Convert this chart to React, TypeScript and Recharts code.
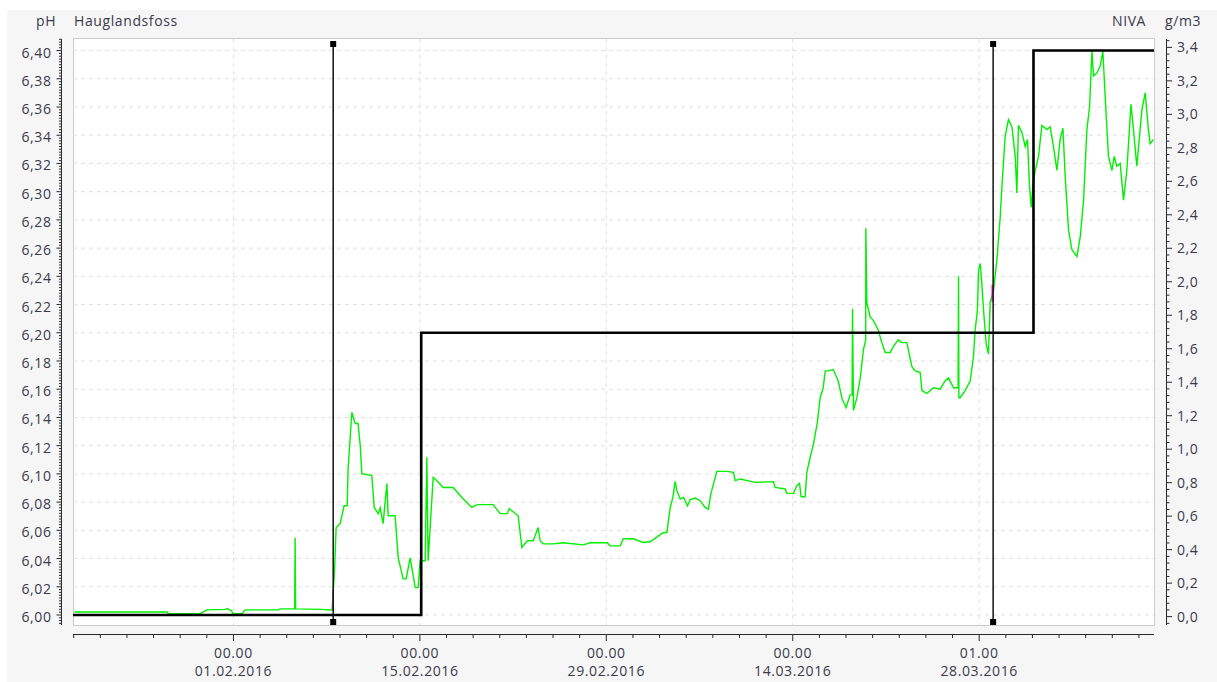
import React from "react";
import { LineChart, Line, XAxis, YAxis, CartesianGrid, ReferenceLine } from "recharts";

// x values are days relative to 01.02.2016 00:00
const GREEN_DAYS = [
  -11.96, -4.98, -4.9, -2.5, -1.98, -0.62, -0.47, -0.17, 0.0, 0.65, 0.88, 3.36, 3.51, 4.6, 4.63, 4.67, 6.51, 7.41,
  7.59, 7.71, 8.01, 8.31, 8.54, 8.61, 8.89, 9.14, 9.36, 9.52, 9.64, 10.39, 10.57, 10.87, 11.02, 11.24, 11.52, 11.62,
  12.14, 12.37, 12.74, 12.97, 13.27, 13.65, 13.87, 14.02, 14.4, 14.52, 14.62, 15.0, 15.28, 15.75, 16.5, 17.15, 17.9,
  18.3, 19.5, 20.03, 20.55, 20.71, 21.38, 21.66, 22.06, 22.51, 22.88, 23.03, 23.26, 24.01, 24.76, 26.26, 26.79, 28.07,
  28.29, 29.04, 29.27, 30.02, 30.77, 31.29, 31.92, 32.29, 32.55, 32.8, 33.0, 33.17, 33.3, 33.55, 33.8, 34.1, 34.3,
  34.67, 35.05, 35.42, 35.67, 35.85, 36.05, 36.3, 37.05, 37.55, 37.68, 38.05, 39.18, 40.55, 40.68, 41.43, 41.56, 42.06,
  42.31, 42.51, 42.63, 42.93, 43.06, 43.31, 43.56, 43.84, 44.06, 44.29, 44.44, 44.66, 45.04, 45.41, 45.71, 46.01,
  46.31, 46.46, 46.49, 46.56, 46.82, 47.07, 47.31, 47.48, 47.49, 47.57, 47.82, 48.04, 48.42, 48.69, 48.94, 49.32,
  49.54, 49.92, 50.2, 50.57, 50.95, 51.19, 51.57, 51.7, 52.07, 52.57, 53.07, 53.45, 53.7, 54.07, 54.42, 54.45, 54.48,
  54.57, 54.95, 55.33, 55.57, 55.7, 55.87, 55.95, 56.08, 56.2, 56.33, 56.53, 56.7, 56.83, 57.08, 57.33, 57.58, 57.71,
  57.95, 58.2, 58.46, 58.71, 58.83, 58.95, 59.21, 59.46, 59.63, 59.78, 59.91, 60.03, 60.21, 60.46, 60.71, 61.09,
  61.33, 61.58, 61.84, 62.08, 62.29, 62.46, 62.71, 62.96, 63.34, 63.59, 63.84, 64.09, 64.29, 64.47, 64.59, 64.84,
  65.09, 65.29, 65.46, 65.71, 65.97, 66.14, 66.34, 66.59, 66.84, 67.09, 67.4, 67.59, 67.84, 68.22, 68.47, 68.71,
  68.84, 69.09,
];

const GREEN_PH = [
  6.0021, 6.0021, 6.0009, 6.0009, 6.0036, 6.004, 6.0045, 6.003, 6.0009, 6.0009, 6.0036, 6.0036, 6.0043, 6.0043, 6.0547,
  6.0043, 6.004, 6.0036, 6.0313, 6.062, 6.0647, 6.0774, 6.0774, 6.1037, 6.1437, 6.1357, 6.1357, 6.1201, 6.1002, 6.0988,
  6.0762, 6.0718, 6.076, 6.0647, 6.0931, 6.0703, 6.0703, 6.0407, 6.0256, 6.0256, 6.0405, 6.0194, 6.0194, 6.0384,
  6.0384, 6.1118, 6.0384, 6.0975, 6.0952, 6.0904, 6.0904, 6.0833, 6.0762, 6.0782, 6.0782, 6.0718, 6.0718, 6.0753,
  6.0703, 6.0478, 6.0526, 6.0526, 6.062, 6.0526, 6.0504, 6.0504, 6.0512, 6.0497, 6.0512, 6.0512, 6.049, 6.049, 6.054,
  6.054, 6.0514, 6.0519, 6.0561, 6.0585, 6.0585, 6.0762, 6.0833, 6.0947, 6.0881, 6.0822, 6.0833, 6.0774, 6.0818,
  6.0829, 6.081, 6.0762, 6.075, 6.0858, 6.0929, 6.1018, 6.1018, 6.1011, 6.0952, 6.0964, 6.094, 6.0945, 6.0904, 6.0893,
  6.0862, 6.0862, 6.0917, 6.0933, 6.0838, 6.0838, 6.1011, 6.1118, 6.1213, 6.136, 6.154, 6.161, 6.173, 6.173, 6.174,
  6.166, 6.153, 6.147, 6.156, 6.156, 6.217, 6.145, 6.154, 6.168, 6.188, 6.195, 6.274, 6.221, 6.211, 6.209, 6.202,
  6.193, 6.186, 6.186, 6.19, 6.195, 6.193, 6.193, 6.176, 6.173, 6.172, 6.159, 6.157, 6.161, 6.16, 6.166, 6.168, 6.161,
  6.161, 6.24, 6.154, 6.154, 6.159, 6.166, 6.183, 6.202, 6.216, 6.244, 6.249, 6.235, 6.216, 6.192, 6.185, 6.222, 6.23,
  6.2515, 6.282, 6.304, 6.339, 6.351, 6.346, 6.325, 6.299, 6.347, 6.342, 6.332, 6.337, 6.304, 6.289, 6.304, 6.315,
  6.325, 6.347, 6.344, 6.346, 6.332, 6.315, 6.337, 6.345, 6.311, 6.273, 6.259, 6.254, 6.268, 6.294, 6.344, 6.36,
  6.3995, 6.382, 6.384, 6.389, 6.3995, 6.368, 6.325, 6.315, 6.325, 6.318, 6.32, 6.294, 6.315, 6.362, 6.344, 6.318,
  6.358, 6.37, 6.344, 6.334, 6.337,
];

const STEP_DAYS = [-12.05, 14.1, 60.08, 69.13];
const STEP_PH = [6.0, 6.2, 6.4, 6.4];

const MAG_A_DAYS = [7.49, 7.49];
const MAG_A_PH = [6.003, 6.018];
const MAG_B_DAYS = [56.98, 56.98];
const MAG_B_PH = [6.222, 6.234];

const CURSOR_DAYS = [7.49, 57.05];

const X_MAJOR = [0, 14, 28, 42, 56];
const X_TIME = ["00.00", "00.00", "00.00", "00.00", "01.00"];
const X_DATE = ["01.02.2016", "15.02.2016", "29.02.2016", "14.03.2016", "28.03.2016"];

const LEFT_MAJOR = [
  6.0, 6.02, 6.04, 6.06, 6.08, 6.1, 6.12, 6.14, 6.16, 6.18, 6.2, 6.22, 6.24, 6.26, 6.28, 6.3, 6.32, 6.34, 6.36, 6.38, 6.4,
];
const RIGHT_MAJOR = [0, 0.2, 0.4, 0.6, 0.8, 1.0, 1.2, 1.4, 1.6, 1.8, 2.0, 2.2, 2.4, 2.6, 2.8, 3.0, 3.2, 3.4];

const X_DOMAIN: [number, number] = [-12.05, 69.13];
const LEFT_DOMAIN: [number, number] = [5.9929, 6.4082];
const RIGHT_DOMAIN: [number, number] = [-0.05, 3.45];

const TEXT = "#3a3a4c";
const AXIS = "#2a2a2a";
const FONT = '"Open Sans", sans-serif';

const pairs = (xs: number[], ys: number[]) => xs.map((d, i) => ({ d, v: ys[i] }));
const greenData = pairs(GREEN_DAYS, GREEN_PH);
const stepData = pairs(STEP_DAYS, STEP_PH);
const magA = pairs(MAG_A_DAYS, MAG_A_PH);
const magB = pairs(MAG_B_DAYS, MAG_B_PH);

// minor ticks
const range = (from: number, to: number, step: number) => {
  const out: number[] = [];
  const n = Math.round((to - from) / step);
  for (let i = 0; i <= n; i++) out.push(Math.round((from + i * step) * 10000) / 10000);
  return out;
};
const xTicks = range(-12, 68, 2);
const leftTicks = range(5.994, 6.408, 0.002);
const rightTicks = range(-0.04, 3.44, 0.04);

const near = (list: number[], v: number) => list.findIndex((m) => Math.abs(m - v) < 1e-6);

function XTick(props: any) {
  const { x, y, payload } = props;
  const i = near(X_MAJOR, payload.value);
  const ay = y + 10;
  return (
    <g>
      <line x1={x} x2={x} y1={ay} y2={ay + (i >= 0 ? 6 : 3)} stroke={AXIS} />
      {i >= 0 && (
        <text textAnchor="middle" fill={TEXT} fontSize={14} fontFamily={FONT} letterSpacing={0.6}>
          <tspan x={x} y={y + 33}>{X_TIME[i]}</tspan>
          <tspan x={x} y={y + 51}>{X_DATE[i]}</tspan>
        </text>
      )}
    </g>
  );
}

function LeftTick(props: any) {
  const { x, y, payload } = props;
  const major = near(LEFT_MAJOR, payload.value) >= 0;
  const ax = x - 11.5;
  return (
    <g>
      <line x1={ax - (major ? 5 : 2.5)} x2={ax} y1={y} y2={y} stroke={AXIS} />
      {major && (
        <text x={ax - 10} y={y + 7} textAnchor="end" fill={TEXT} fontSize={14} fontFamily={FONT} letterSpacing={0.6}>
          {payload.value.toFixed(2).replace(".", ",")}
        </text>
      )}
    </g>
  );
}

function RightTick(props: any) {
  const { x, y, payload } = props;
  const major = near(RIGHT_MAJOR, payload.value) >= 0;
  const ax = x + 13;
  return (
    <g>
      <line x1={ax} x2={ax + (major ? 5 : 2.5)} y1={y} y2={y} stroke={AXIS} />
      {major && (
        <text x={ax + 10} y={y + 5} textAnchor="start" fill={TEXT} fontSize={14} fontFamily={FONT} letterSpacing={0.6}>
          {payload.value.toFixed(1).replace(".", ",")}
        </text>
      )}
    </g>
  );
}

function CursorShape(props: any) {
  const { x1, y1, y2 } = props;
  const top = Math.min(y1, y2);
  const bot = Math.max(y1, y2);
  return (
    <g>
      <line x1={x1} x2={x1} y1={top + 5} y2={bot - 3} stroke="#111" strokeWidth={1.5} />
      <rect x={x1 - 3} y={top + 2} width={6} height={6} fill="#000" />
      <rect x={x1 - 3} y={bot - 6} width={6} height={6} fill="#000" />
    </g>
  );
}

export default function App() {
  const abs = (s: React.CSSProperties): React.CSSProperties => ({ position: "absolute", ...s });
  return (
    <div style={abs({ left: 0, top: 0, width: 1217, height: 682, background: "#fff", overflow: "hidden", fontFamily: FONT })}>
      <div style={abs({ left: 7, top: 10, right: 0, bottom: 0, background: "#f6f6f6" })} />
      <div
        style={abs({
          left: 73,
          top: 38,
          width: 1082,
          height: 588,
          background: "#fff",
          border: "1px solid #cdcdcd",
          boxSizing: "border-box",
        })}
      />
      {/* axis lines sit a little outside the plot box */}
      <div style={abs({ left: 61, top: 39, width: 1, height: 586, background: AXIS })} />
      <div style={abs({ left: 1166, top: 39, width: 1, height: 586, background: AXIS })} />
      <div style={abs({ left: 73, top: 634, width: 1081, height: 1, background: AXIS })} />

      <div style={abs({ left: 36, top: 11, fontSize: 14, color: TEXT, letterSpacing: 0.6 })}>pH</div>
      <div style={abs({ left: 74, top: 11, fontSize: 14, color: TEXT, letterSpacing: 0.6 })}>Hauglandsfoss</div>
      <div style={abs({ left: 1112, top: 11, fontSize: 14, color: TEXT, letterSpacing: 0.6 })}>NIVA</div>
      <div style={abs({ left: 1165, top: 11, fontSize: 14, color: TEXT, letterSpacing: 0.6 })}>g/m3</div>

      <div style={abs({ left: 0, top: 0 })}>
        <LineChart width={1217} height={682} margin={{ top: 39, right: 0, bottom: 0, left: 0 }}>
          <CartesianGrid
            yAxisId="L"
            horizontalValues={LEFT_MAJOR}
            verticalValues={X_MAJOR}
            stroke="#e0e0e0"
            strokeDasharray="4 4"
          />
          <XAxis
            dataKey="d"
            type="number"
            domain={X_DOMAIN}
            allowDataOverflow
            ticks={xTicks}
            interval={0}
            height={57}
            axisLine={false}
            tickLine={false}
            tickSize={0}
            tickMargin={0}
            tick={<XTick />}
          />
          <YAxis
            yAxisId="L"
            type="number"
            domain={LEFT_DOMAIN}
            allowDataOverflow
            ticks={leftTicks}
            interval={0}
            width={73}
            axisLine={false}
            tickLine={false}
            tickSize={0}
            tickMargin={0}
            tick={<LeftTick />}
          />
          <YAxis
            yAxisId="R"
            orientation="right"
            type="number"
            domain={RIGHT_DOMAIN}
            allowDataOverflow
            ticks={rightTicks}
            interval={0}
            width={63}
            axisLine={false}
            tickLine={false}
            tickSize={0}
            tickMargin={0}
            tick={<RightTick />}
          />
          <Line
            yAxisId="L"
            data={greenData}
            dataKey="v"
            stroke="#00f000"
            strokeWidth={1.4}
            dot={false}
            type="linear"
            isAnimationActive={false}
          />
          <Line
            yAxisId="L"
            data={magA}
            dataKey="v"
            stroke="#ff00ff"
            strokeWidth={1.4}
            dot={false}
            isAnimationActive={false}
          />
          <Line
            yAxisId="L"
            data={magB}
            dataKey="v"
            stroke="#ff00ff"
            strokeWidth={1.4}
            dot={false}
            isAnimationActive={false}
          />
          <Line
            yAxisId="L"
            data={stepData}
            dataKey="v"
            type="stepAfter"
            stroke="#000"
            strokeWidth={2.6}
            dot={false}
            isAnimationActive={false}
          />
          {CURSOR_DAYS.map((d) => (
            <ReferenceLine key={d} yAxisId="L" x={d} shape={<CursorShape />} />
          ))}
        </LineChart>
      </div>
    </div>
  );
}
